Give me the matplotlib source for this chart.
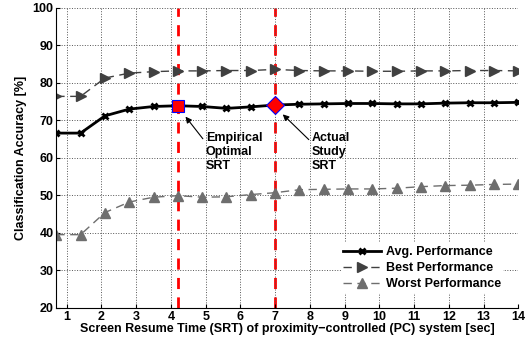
import numpy as np
import matplotlib
matplotlib.use("Agg")
from matplotlib import pyplot as plt

plt.rcParams['font.family'] = ['Liberation Sans', 'DejaVu Sans']
plt.rcParams['font.weight'] = 'bold'

# SRT values in seconds
srt = [0.7, 1.4, 2.1, 2.8, 3.5, 4.2, 4.9, 5.6, 6.3, 7.0,
       7.7, 8.4, 9.1, 9.8, 10.5, 11.2, 11.9, 12.6, 13.3, 14.0]

avg_perf = [66.6, 66.6, 71.2, 73.0, 73.7, 73.9, 73.7, 73.2, 73.6, 74.1,
            74.3, 74.4, 74.5, 74.5, 74.4, 74.4, 74.6, 74.7, 74.7, 74.8]
best_perf = [76.4, 76.4, 81.3, 82.6, 83.0, 83.2, 83.2, 83.3, 83.3, 83.6,
             83.3, 83.2, 83.2, 83.1, 83.1, 83.2, 83.2, 83.3, 83.3, 83.2]
worst_perf = [39.5, 39.5, 45.4, 48.2, 49.5, 49.9, 49.5, 49.6, 50.2, 50.7,
              51.5, 51.6, 51.7, 51.7, 51.9, 52.3, 52.6, 52.7, 52.9, 53.0]

optimal_srt = 4.2
study_srt = 7.0

fig = plt.figure(figsize=(5.31, 3.45), dpi=100)
ax = fig.add_axes([0.106, 0.108, 0.870, 0.869])

ax.axvline(optimal_srt, color='red', ls=(0, (4, 3)), lw=2, zorder=1)
ax.axvline(study_srt, color='red', ls=(0, (4, 3)), lw=2, zorder=1)

ax.plot(srt, avg_perf, '-', color='black', lw=2, marker='x', ms=4, mew=2,
        label='Avg. Performance', zorder=3)
ax.plot(srt, best_perf, '--', color='#404040', lw=1, marker='>', ms=7,
        dashes=(6, 4), label='Best Performance', zorder=2)
ax.plot(srt, worst_perf, '--', color='#6e6e6e', lw=1, marker='^', ms=7,
        dashes=(6, 4), label='Worst Performance', zorder=2)

i_opt = srt.index(optimal_srt)
i_std = srt.index(study_srt)
ax.plot(optimal_srt, avg_perf[i_opt], 's', color='red', mec='blue', ms=9,
        mew=0.8, zorder=4)
ax.plot(study_srt, avg_perf[i_std], 'D', color='red', mec='blue', ms=9,
        mew=0.8, zorder=4)

ax.annotate('Empirical\nOptimal\nSRT', xy=(4.42, 71.0), xytext=(5.0, 61.5),
            fontsize=9, fontweight='bold', va='center', ha='left',
            arrowprops=dict(arrowstyle='-|>', color='black', lw=0.8,
                            shrinkA=0, shrinkB=0,
                            relpos=(0, 0.75)))
ax.annotate('Actual\nStudy\nSRT', xy=(7.22, 71.6), xytext=(8.05, 61.5),
            fontsize=9, fontweight='bold', va='center', ha='left',
            arrowprops=dict(arrowstyle='-|>', color='black', lw=0.8,
                            shrinkA=0, shrinkB=0,
                            relpos=(0, 0.75)))

ax.set_xlim(0.7, 14)
ax.set_ylim(20, 100)
ax.set_xticks(range(1, 15))
ax.set_yticks(range(20, 101, 10))
ax.tick_params(labelsize=9, direction='in', length=3, pad=2)
ax.grid(True, ls=':', color='#555555', lw=0.7)
ax.spines['top'].set_visible(False)
ax.spines['right'].set_visible(False)

ax.set_xlabel('Screen Resume Time (SRT) of proximity\u2212controlled (PC) system [sec]',
              fontsize=9, fontweight='bold', labelpad=0)
ax.set_ylabel('Classification Accuracy [%]', fontsize=9, fontweight='bold',
              labelpad=4)

leg = ax.legend(loc='lower right', fontsize=9, frameon=True, fancybox=False,
                borderaxespad=1.2, handlelength=3, labelspacing=0.33,
                handletextpad=0.4, borderpad=0.2)
leg.get_frame().set_edgecolor('none')
leg.get_frame().set_facecolor('white')
leg.get_frame().set_alpha(1)

fig.savefig('out.png', dpi=100)
